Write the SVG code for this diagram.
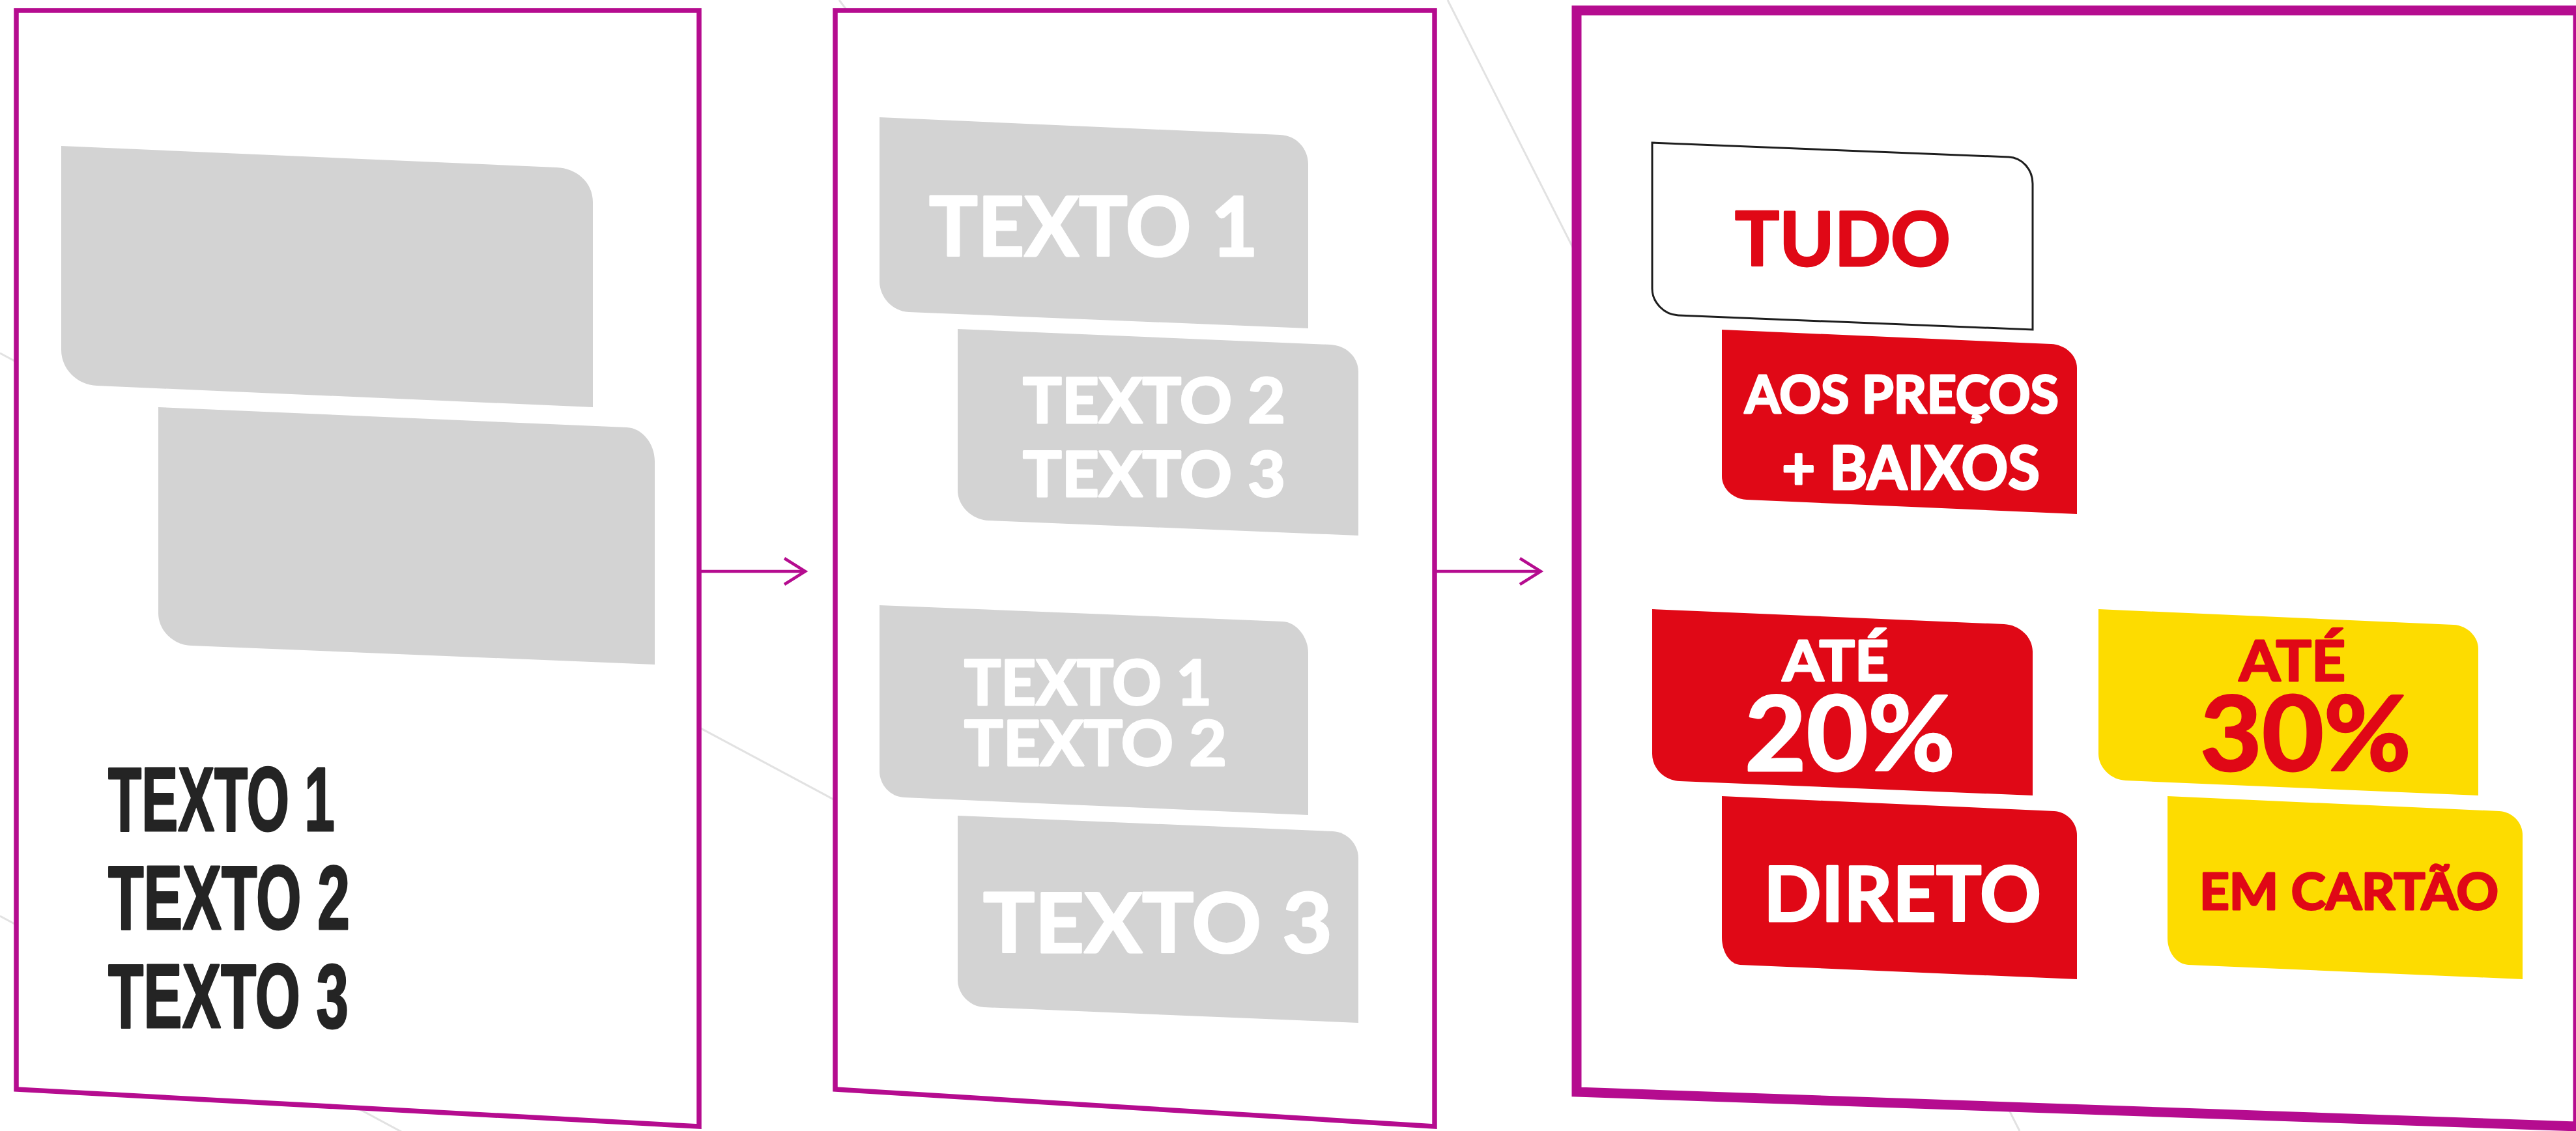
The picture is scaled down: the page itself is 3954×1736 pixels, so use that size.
<svg xmlns="http://www.w3.org/2000/svg" width="3954" height="1736" viewBox="0 0 3954 1736">
<style>
.guide{stroke:#e2e2e2;stroke-width:3;fill:none}
.panel{fill:#ffffff;stroke:#b50c8f;stroke-linejoin:miter}
.gray{fill:#d3d3d3}
.red{fill:#e00816}
.yellow{fill:#fddc00}
.cond{font-family:"Liberation Sans Narrow","Liberation Sans","DejaVu Sans Condensed",sans-serif;font-weight:700;font-size:140px;fill:#242424;stroke:#242424;stroke-width:3;stroke-linejoin:round}
.geo{font-family:"Lato","Open Sans","Liberation Sans",sans-serif;font-weight:700;stroke-width:3;stroke-linejoin:round}
.w{fill:#ffffff;stroke:#ffffff}
.r{fill:#e00816;stroke:#e00816}
.conn{stroke:#b50c8f;stroke-width:4.5;fill:none}
</style>
<rect x="0" y="0" width="3954" height="1736" fill="#ffffff"/>
<g id="guides">
<line class="guide" x1="0" y1="542" x2="1300" y2="1238"/>
<line class="guide" x1="0" y1="1406" x2="640" y2="1750"/>
<line class="guide" x1="2222" y1="0" x2="3100" y2="1736"/>
<line class="guide" x1="1288" y1="0" x2="1320" y2="42"/>
</g>
<g id="panel1">
<polygon class="panel" stroke-width="7.5" points="25,16 1073,16 1073,1729 25,1672"/>
<path class="gray" d="M94,224 L854,257 C885,258 910,280 910,310 L910,625 L149,592 C118,591 94,566 94,537 Z"/>
<path class="gray" d="M243,625 L962,656 C985,657 1005,680 1005,708 L1005,1020 L294,991 C266,990 243,968 243,941 Z"/>
<text class="cond" x="166" y="1275" textLength="348" lengthAdjust="spacingAndGlyphs">TEXTO 1</text>
<text class="cond" x="166" y="1426" textLength="371" lengthAdjust="spacingAndGlyphs">TEXTO 2</text>
<text class="cond" x="166" y="1577" textLength="369" lengthAdjust="spacingAndGlyphs">TEXTO 3</text>
</g>
<g id="panel2">
<polygon class="panel" stroke-width="7.5" points="1282,16 2202,16 2202,1729 1282,1672"/>
<path class="gray" d="M1350,180 L1965,207 C1990,208 2008,228 2008,252 L2008,504 L1395,479 C1370,478 1350,456 1350,432 Z"/>
<path class="gray" d="M1470,505 L2042,529 C2066,530 2085,548 2085,570 L2085,822 L1518,799 C1492,798 1470,777 1470,753 Z"/>
<path class="gray" d="M1350,929 L1969,954 C1990,955 2008,978 2008,1002 L2008,1251 L1388,1224 C1366,1223 1350,1204 1350,1184 Z"/>
<path class="gray" d="M1470,1252 L2046,1276 C2068,1277 2085,1296 2085,1317 L2085,1570 L1510,1546 C1488,1545 1470,1525 1470,1505 Z"/>
<text class="geo w" x="1426" y="393" font-size="127" textLength="505" lengthAdjust="spacingAndGlyphs">TEXTO 1</text>
<text class="geo w" x="1570" y="649" font-size="95" textLength="403" lengthAdjust="spacingAndGlyphs">TEXTO 2</text>
<text class="geo w" x="1570" y="762" font-size="95" textLength="403" lengthAdjust="spacingAndGlyphs">TEXTO 3</text>
<text class="geo w" x="1480" y="1082" font-size="95" textLength="380" lengthAdjust="spacingAndGlyphs">TEXTO 1</text>
<text class="geo w" x="1480" y="1175" font-size="95" textLength="403" lengthAdjust="spacingAndGlyphs">TEXTO 2</text>
<text class="geo w" x="1509" y="1462" font-size="127" textLength="536" lengthAdjust="spacingAndGlyphs">TEXTO 3</text>
</g>
<g id="panel3">
<polygon class="panel" stroke-width="15" points="2420,16 3957,16 3957,1729 2420,1676"/>
</g>
<g id="tudo">
<path d="M2536,219 L3083,241 C3104,242 3120,260 3120,282 L3120,506 L2576,484 C2554,483 2536,464 2536,443 Z" fill="#ffffff" stroke="#1e1e1e" stroke-width="3"/>
<text class="geo r" x="2663" y="408" font-size="115" textLength="331" lengthAdjust="spacingAndGlyphs">TUDO</text>
</g>
<g id="aos-precos">
<path class="red" d="M2643,506 L3148,528 C3170,529 3188,545 3188,565 L3188,789 L2681,767 C2660,766 2643,750 2643,731 Z"/>
<text class="geo w" x="2678" y="634" font-size="80" textLength="482" lengthAdjust="spacingAndGlyphs">AOS PREÇOS</text>
<text class="geo w" x="2735" y="751" font-size="91" textLength="396" lengthAdjust="spacingAndGlyphs">+ BAIXOS</text>
</g>
<g id="ate-20">
<path class="red" d="M2536,935 L3076,958 C3100,959 3120,978 3120,1000 L3120,1221 L2578,1199 C2555,1198 2536,1180 2536,1157 Z"/>
<text class="geo w" x="2736" y="1045" font-size="86" textLength="163" lengthAdjust="spacingAndGlyphs">ATÉ</text>
<text class="geo w" x="2678" y="1183" font-size="160" textLength="323" lengthAdjust="spacingAndGlyphs">20%</text>
</g>
<g id="ate-30">
<path class="yellow" d="M3221,935 L3766,959 C3787,960 3804,977 3804,996 L3804,1221 L3263,1198 C3240,1197 3221,1178 3221,1157 Z"/>
<text class="geo r" x="3437" y="1045" font-size="86" textLength="163" lengthAdjust="spacingAndGlyphs">ATÉ</text>
<text class="geo r" x="3377" y="1183" font-size="160" textLength="324" lengthAdjust="spacingAndGlyphs">30%</text>
</g>
<g id="direto">
<path class="red" d="M2643,1222 L3153,1245 C3172,1246 3188,1262 3188,1282 L3188,1503 L2671,1481 C2655,1480 2643,1461 2643,1439 Z"/>
<text class="geo w" x="2707" y="1414" font-size="117" textLength="426" lengthAdjust="spacingAndGlyphs">DIRETO</text>
</g>
<g id="em-cartao">
<path class="yellow" d="M3327,1222 L3836,1245 C3856,1246 3872,1262 3872,1282 L3872,1503 L3359,1481 C3341,1480 3327,1462 3327,1440 Z"/>
<text class="geo r" x="3376" y="1396" font-size="76" textLength="459" lengthAdjust="spacingAndGlyphs">EM CARTÃO</text>
</g>
<g id="connectors">
<line class="conn" x1="1073" y1="877" x2="1234" y2="877"/>
<polyline class="conn" points="1204,857 1236,877 1204,897"/>
<line class="conn" x1="2202" y1="877" x2="2363" y2="877"/>
<polyline class="conn" points="2333,857 2365,877 2333,897"/>
</g>
</svg>
